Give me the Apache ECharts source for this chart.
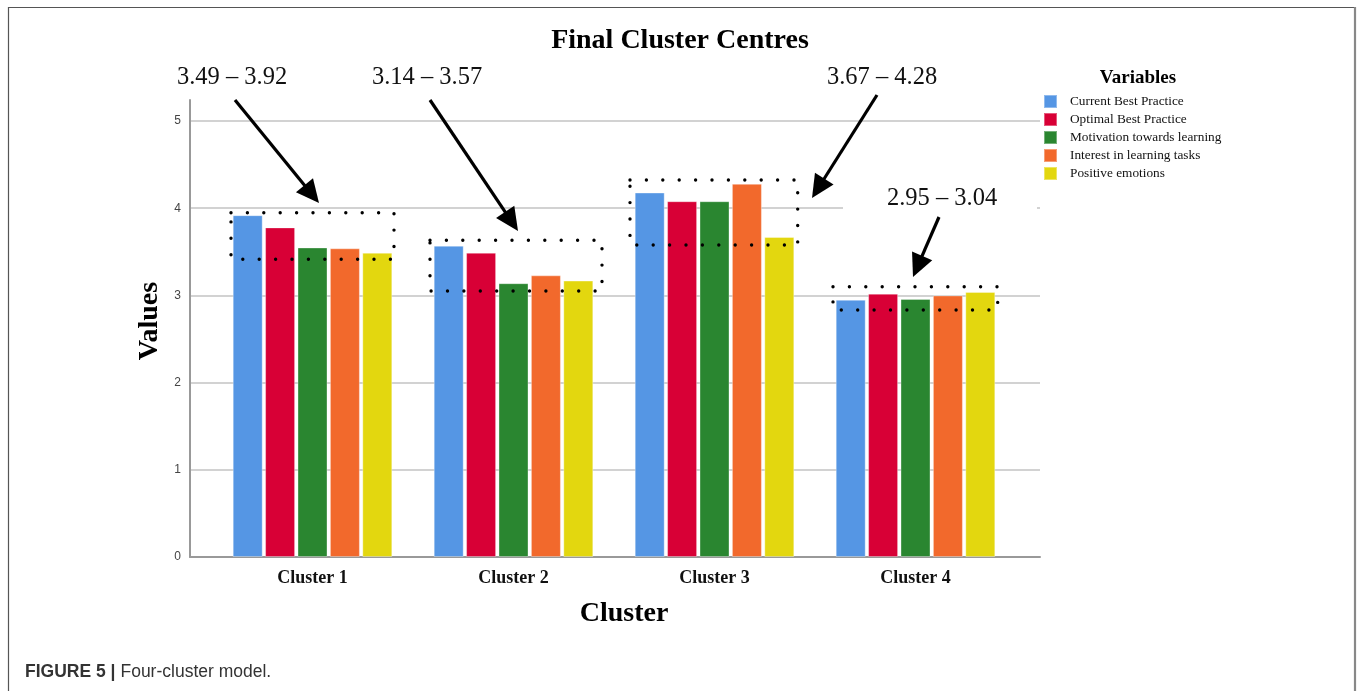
<!DOCTYPE html>
<html>
<head>
<meta charset="utf-8">
<script src="https://cdn.jsdelivr.net/npm/echarts@6/dist/echarts.min.js"></script>
<style>
html,body{margin:0;padding:0;background:#fff;}
#main{width:1360px;height:691px;}
</style>
</head>
<body>
<div id="main"></div>
<script>
// ---- data ----
const categories = ['Cluster 1', 'Cluster 2', 'Cluster 3', 'Cluster 4'];
const seriesNames = ['Current Best Practice', 'Optimal Best Practice', 'Motivation towards learning', 'Interest in learning tasks', 'Positive emotions'];
const currentBest = [3.92, 3.57, 4.18, 2.95];
const optimalBest = [3.78, 3.49, 4.08, 3.02];
const motivation = [3.55, 3.14, 4.08, 2.96];
const interest = [3.54, 3.23, 4.28, 3.00];
const positive = [3.49, 3.17, 3.67, 3.04];
const yTicks = [0, 1, 2, 3, 4, 5];
const rangeLabels = ['3.49 – 3.92', '3.14 – 3.57', '3.67 – 4.28', '2.95 – 3.04'];

const colors = ['#5596e4', '#d80036', '#2a8630', '#f2692c', '#e3d70f'];
const allData = [currentBest, optimalBest, motivation, interest, positive];
const SERIF = '"Liberation Serif", "Times New Roman", serif';
const SANS = '"Liberation Sans", Arial, sans-serif';

const chart = echarts.init(document.getElementById('main'), null, {renderer: 'canvas'});

function arrow(x1, y1, x2, y2) {
  const dx = x2 - x1, dy = y2 - y1, L = Math.hypot(dx, dy);
  const ux = dx / L, uy = dy / L, nx = -uy, ny = ux;
  const hl = 23, hw = 11;
  const bx = x2 - ux * hl, by = y2 - uy * hl;
  return [
    {type: 'line', shape: {x1: x1, y1: y1, x2: bx + ux * 2, y2: by + uy * 2}, style: {stroke: '#000', lineWidth: 3.2}, z: 50},
    {type: 'polygon', shape: {points: [[x2, y2], [bx + nx * hw, by + ny * hw], [bx - nx * hw, by - ny * hw]]}, style: {fill: '#000'}, z: 50}
  ];
}
function dotBox(x1, y1, x2, y2) {
  return {type: 'rect', shape: {x: x1, y: y1, width: x2 - x1, height: y2 - y1},
    style: {fill: null, stroke: '#000', lineWidth: 3.4, lineDash: [0, 16.4], lineCap: 'round'}, z: 50};
}
function annText(txt, cx, cy) {
  return {type: 'text', x: cx, y: cy, style: {text: txt, font: '24.5px ' + SERIF, fill: '#111', align: 'center', verticalAlign: 'middle'}, z: 50};
}

const graphics = [
  // frame
  {type: 'polyline', shape: {points: [[8.5, 691], [8.5, 7.5], [1354, 7.5]]}, style: {stroke: '#555', lineWidth: 1.2, fill: null}, z: 1},
  {type: 'line', shape: {x1: 1355, y1: 7, x2: 1355, y2: 691}, style: {stroke: '#888', lineWidth: 2.2}, z: 1},
  // white patch behind the lower-right annotation (covers part of gridline)
  {type: 'rect', shape: {x: 843, y: 200, width: 194, height: 16}, style: {fill: '#fff'}, z: 10},
  // axis names
  {type: 'text', x: 150, y: 321, rotation: Math.PI / 2, style: {text: 'Values', font: 'bold 28px ' + SERIF, fill: '#000', align: 'center', verticalAlign: 'middle'}, z: 20},
  {type: 'text', x: 624, y: 614, style: {text: 'Cluster', font: 'bold 28px ' + SERIF, fill: '#000', align: 'center', verticalAlign: 'middle'}, z: 20},
  // legend title
  {type: 'text', x: 1138, y: 78, style: {text: 'Variables', font: 'bold 19px ' + SERIF, fill: '#000', align: 'center', verticalAlign: 'middle'}, z: 20},
  // annotations
  annText(rangeLabels[0], 232, 78),
  annText(rangeLabels[1], 427, 78),
  annText(rangeLabels[2], 882, 78),
  annText(rangeLabels[3], 942, 199),
  ...arrow(235, 100, 319, 203),
  ...arrow(430, 100, 518, 231),
  ...arrow(877, 95, 812, 198),
  ...arrow(939, 217, 913, 277),
  dotBox(231, 212.7, 394, 259.3),
  dotBox(430, 240.3, 602, 291),
  dotBox(630, 180, 797.7, 245),
  dotBox(833, 286.7, 997.7, 310)
];

const option = {
  animation: false,
  backgroundColor: '#fff',
  color: colors,
  title: [
    {text: 'Final Cluster Centres', left: 'center', top: 22,
     textStyle: {fontFamily: SERIF, fontWeight: 'bold', fontSize: 28, color: '#000'}},
    {text: '{b|FIGURE 5 |} {r|Four-cluster model.}', left: 20, top: 658,
     textStyle: {rich: {
       b: {fontFamily: SANS, fontWeight: 'bold', fontSize: 17.5, color: '#333'},
       r: {fontFamily: SANS, fontWeight: 'normal', fontSize: 17.5, color: '#333'}
     }}}
  ],
  legend: {
    orient: 'vertical', left: 1038, top: 89,
    itemWidth: 13, itemHeight: 13, itemGap: 3,
    icon: 'rect',
    data: seriesNames,
    textStyle: {fontFamily: SERIF, fontSize: 13.3, lineHeight: 13, color: '#111', padding: [0, 0, 0, 8]}
  },
  grid: [
    {left: 190, right: 320, top: 100, bottom: 134},   // axis lines
    {left: 190, right: 320, top: 121, bottom: 134},   // y labels + gridlines
    {left: 212, right: 344, top: 121, bottom: 134}    // bars
  ],
  xAxis: [
    {gridIndex: 0, type: 'category', data: categories, axisLine: {show: true, lineStyle: {color: '#999', width: 2}},
     axisTick: {show: false}, axisLabel: {show: false}, splitLine: {show: false}},
    {gridIndex: 1, type: 'category', data: categories, show: false},
    {gridIndex: 2, type: 'category', data: categories, axisLine: {show: false}, axisTick: {show: false},
     axisLabel: {margin: 12, fontFamily: SERIF, fontWeight: 'bold', fontSize: 18, color: '#111'}}
  ],
  yAxis: [
    {gridIndex: 0, type: 'value', min: 0, max: 5.24, axisLine: {show: true, lineStyle: {color: '#999', width: 2}},
     axisLabel: {show: false}, axisTick: {show: false}, splitLine: {show: false}},
    {gridIndex: 1, type: 'value', min: yTicks[0], max: yTicks[yTicks.length - 1], interval: 1,
     axisLine: {show: false}, axisTick: {show: false},
     axisLabel: {margin: 9, fontFamily: SANS, fontSize: 12, color: '#444'},
     splitLine: {show: true, lineStyle: {color: '#d2d2d2', width: 2}}},
    {gridIndex: 2, type: 'value', min: 0, max: 5, show: false, splitLine: {show: false}}
  ],
  series: seriesNames.map((name, i) => ({
    name: name, type: 'bar', xAxisIndex: 2, yAxisIndex: 2,
    data: allData[i], barWidth: 30, barGap: '8%',
    itemStyle: {color: colors[i], borderColor: 'rgba(255,255,255,0.35)', borderWidth: 1},
    z: 5
  })),
  graphic: graphics
};
chart.setOption(option);
</script>
</body>
</html>
